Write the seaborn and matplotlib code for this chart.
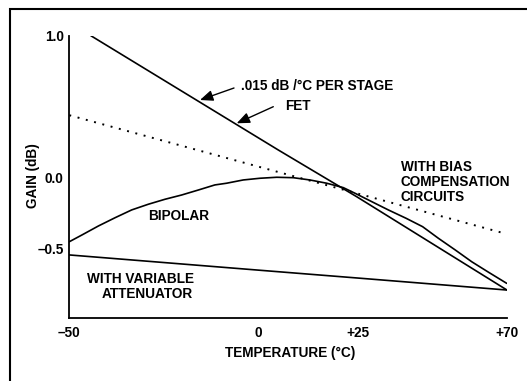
import numpy as np
import pandas as pd
import matplotlib
matplotlib.use("Agg")
import matplotlib.pyplot as plt
import seaborn as sns
from matplotlib.patches import Rectangle, FancyArrowPatch

# ---- data ----
axis_temps = [-50, 0, 25, 70]          # tick positions on the (hand-drawn, uneven) temperature axis
axis_pos = [0.0, 50.0, 76.45, 115.7]   # relative drawn positions of those ticks
x_tick_labels = ["\u201350", "0", "+25", "+70"]
y_ticks = [1.0, 0.0, -0.5]
y_tick_labels = ["1.0", "0.0", "\u20130.5"]

fet_temp = [-44.3, 5.0, 24.6, 70]
fet_gain = [1.0, 0.195, -0.134, -0.790]

bias_temp = [-50, 0, 25, 69]
bias_gain = [0.44, 0.078, -0.113, -0.39]

bipolar_temp = [-50, -46.7, -42.3, -37.9, -33.5, -29.1, -24.7, -20.3, -15.9, -11.5,
                -8.4, -4.0, 0.4, 4.6, 8.75, 12.9, 17.1, 21.25, 24.2, 29.1, 34.1,
                39.5, 44.5, 49.3, 54.4, 59.4, 64.5, 70]
bipolar_gain = [-0.451, -0.404, -0.340, -0.282, -0.227, -0.187, -0.152, -0.122,
                -0.087, -0.051, -0.039, -0.016, -0.004, 0.003, 0.0, -0.016, -0.039,
                -0.070, -0.110, -0.169, -0.227, -0.286, -0.345, -0.427, -0.509,
                -0.592, -0.666, -0.744]

atten_temp = [-50, 0, 25, 70]
atten_gain = [-0.544, -0.651, -0.707, -0.791]

W, H = 527, 381
sns.set_theme(style="white")
plt.rcParams['font.family'] = ['Liberation Sans', 'DejaVu Sans']
plt.rcParams['font.weight'] = 'bold'
for k in ['text.color', 'axes.labelcolor', 'xtick.color', 'ytick.color', 'axes.edgecolor']:
    plt.rcParams[k] = 'black'

fig = plt.figure(figsize=(W / 100, H / 100), dpi=100)
fig.patch.set_facecolor("white")

def fx(px):
    return px / W

def fy(py):
    return 1 - py / H

ax = fig.add_axes([fx(69.3), fy(317.7), fx(506.7) - fx(69.3), fy(35.7) - fy(317.7)])
ax.set_facecolor("white")

def fwd(x):
    return np.interp(x, axis_temps, axis_pos)

def inv(p):
    return np.interp(p, axis_pos, axis_temps)

ax.set_xscale('function', functions=(fwd, inv))

lw = 1.2
fet_df = pd.DataFrame({"t": fet_temp, "g": fet_gain})
bias_df = pd.DataFrame({"t": bias_temp, "g": bias_gain})
bip_df = pd.DataFrame({"t": bipolar_temp, "g": bipolar_gain})
att_df = pd.DataFrame({"t": atten_temp, "g": atten_gain})

sns.lineplot(data=fet_df, x="t", y="g", ax=ax, color="black", lw=lw, sort=False)
sns.lineplot(data=bip_df, x="t", y="g", ax=ax, color="black", lw=lw, sort=False)
sns.lineplot(data=att_df, x="t", y="g", ax=ax, color="black", lw=lw, sort=False)
sns.lineplot(data=bias_df, x="t", y="g", ax=ax, color="black", lw=1.4,
             linestyle=(0, (1, 3.4)), sort=False)

ax.set_xlim(-50, 70)
ax.set_ylim(-0.986, 1.0)

for s in ["top", "right"]:
    ax.spines[s].set_visible(False)
for s in ["left", "bottom"]:
    ax.spines[s].set_color("black")
    ax.spines[s].set_linewidth(1.3)

fs = 9.8
ax.set_xticks(axis_temps)
ax.set_xticklabels(x_tick_labels)
ax.set_yticks(y_ticks)
ax.set_yticklabels(y_tick_labels)
ax.tick_params(axis='x', direction='in', length=4.5, width=1.1, pad=6,
               labelsize=fs, colors='black')
ax.tick_params(axis='y', direction='in', length=5.8, width=1.1, pad=4,
               labelsize=fs, colors='black')
# no tick mark at 0.0 in the reference
ax.yaxis.get_major_ticks()[1].tick1line.set_visible(False)
ax.xaxis.get_major_ticks()[0].tick1line.set_visible(False)
for lab in ax.get_xticklabels() + ax.get_yticklabels():
    lab.set_fontweight('bold')

ax.set_xlabel("")
ax.set_ylabel("")

fig.text(fx(290), fy(353.3), "TEMPERATURE (\u00b0C)", ha="center", va="center",
         fontsize=fs, fontweight="bold")
fig.text(fx(33), fy(176), "GAIN (dB)", ha="center", va="center", rotation=90,
         fontsize=fs, fontweight="bold")

fig.text(fx(240.7), fy(86), ".015 dB /\u00b0C PER STAGE", ha="left", va="center",
         fontsize=fs, fontweight="bold")
fig.text(fx(285), fy(106.5), "FET", ha="left", va="center", fontsize=fs, fontweight="bold")
for i, t in enumerate(["WITH BIAS", "COMPENSATION", "CIRCUITS"]):
    fig.text(fx(400.7), fy(167 + 15 * i), t, ha="left", va="center",
             fontsize=fs, fontweight="bold")
fig.text(fx(148.3), fy(216), "BIPOLAR", ha="left", va="center", fontsize=fs, fontweight="bold")
fig.text(fx(194), fy(279.3), "WITH VARIABLE", ha="right", va="center",
         fontsize=fs, fontweight="bold")
fig.text(fx(193), fy(294), "ATTENUATOR", ha="right", va="center",
         fontsize=fs, fontweight="bold")

arrow = dict(arrowstyle='-|>,head_length=0.6,head_width=0.25', color='black',
             lw=1.0, shrinkA=0, shrinkB=0, mutation_scale=13)
fig.add_artist(FancyArrowPatch(
    (fx(234), fy(88)), (fx(200), fy(100)), transform=fig.transFigure, **arrow))
fig.add_artist(FancyArrowPatch(
    (fx(273.3), fy(106.7)), (fx(236.7), fy(123.3)), transform=fig.transFigure, **arrow))

# outer frame (cut off at right and bottom in the reference)
fig.add_artist(Rectangle((fx(10), -0.05), 1.2, fy(9) + 0.05, transform=fig.transFigure,
                         fill=False, edgecolor='black', lw=1.5))

fig.savefig("out.png", dpi=100)
